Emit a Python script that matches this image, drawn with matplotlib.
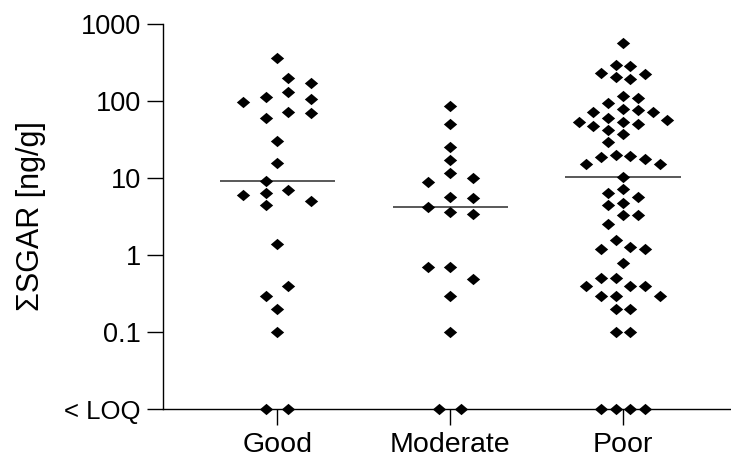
import numpy as np
import matplotlib
matplotlib.use("Agg")
import matplotlib.pyplot as plt

plt.rcParams['font.family'] = ['Liberation Sans', 'DejaVu Sans']

# Werte (ng/g), ohne die Proben < LOQ
categories = ['Good', 'Moderate', 'Poor']
good = [359, 201, 173, 132, 112, 105, 98, 73, 69, 61, 30.5, 15.8, 9.1, 7.0,
        6.4, 6.1, 5.1, 4.5, 1.4, 0.39, 0.29, 0.2, 0.1]
moderate = [87, 50, 25.5, 17.1, 11.5, 9.9, 8.95, 5.7, 5.45, 4.16, 3.65, 3.41,
            0.69, 0.69, 0.49, 0.29, 0.1]
poor = [571, 294, 285, 233, 225, 203, 191, 116, 108, 95, 78, 76, 73, 73, 61,
        56, 54, 54, 51, 47, 42, 37, 29.6, 19.9, 19.3, 18.5, 17.5, 15.2, 15.2,
        10.4, 7.1, 6.3, 5.7, 4.7, 4.4, 3.3, 3.3, 2.5, 1.57, 1.28, 1.19, 1.19,
        0.79, 0.5, 0.5, 0.39, 0.39, 0.39, 0.29, 0.29, 0.29, 0.2, 0.2, 0.1, 0.1]
n_loq = [2, 2, 4]
loq = 0.01  # Position der "< LOQ"-Zeile auf der log-Achse

ytick_vals = [loq, 0.1, 1, 10, 100, 1000]
ytick_labels = ['< LOQ', '0.1', '1', '10', '100', '1000']

# Layout (Pixel bei dpi=100)
PX_X = 173.0   # Pixel pro Kategorie
PX_DEC = 77.0  # Pixel pro Dekade
MW, MH = 13.0, 11.5  # Markerbreite/-hoehe in Pixel
step_px = [11.3, 11.3, 7.4]


def spread(vals, unit):
    # einfacher Beeswarm auf einem Raster, danach Gruppen zentrieren
    y = np.log10(vals) * PX_DEC
    order = np.argsort(-y, kind='stable')
    k = np.zeros(len(vals))
    placed = []
    flip = 1
    for i in order:
        cands = [0] + [s * m for m in range(1, 30) for s in (flip, -flip)]
        for c in cands:
            if all(not (abs(y[i] - yy) < MH and abs(c - kk) * unit < MW)
                   for yy, kk in placed):
                break
        if c != 0:
            flip = -flip
        placed.append((y[i], c))
        k[i] = c
    # Ketten von ueberlappenden Punkten zentrieren
    grp = [order[0]]
    for a, b in zip(order[:-1], order[1:]):
        if y[a] - y[b] < MH:
            grp.append(b)
        else:
            k[grp] -= (k[grp].min() + k[grp].max()) / 2
            grp = [b]
    k[grp] -= (k[grp].min() + k[grp].max()) / 2
    return k * unit / PX_X


fig = plt.figure(figsize=(7.31, 4.59), dpi=100)
ax = fig.add_axes([162.5 / 731, 50 / 459, 568.5 / 731, 385 / 459])

for i, data in enumerate([good, moderate, poor]):
    vals = np.array(list(data) + [loq] * n_loq[i], dtype=float)
    xs = i + spread(vals, step_px[i])
    ax.plot(xs, vals, linestyle='none',
            marker=[(-1, 0), (0, 0.85), (1, 0), (0, -0.85)],
            markersize=9.6, color='black', markeredgewidth=0,
            clip_on=False, zorder=3)
    med = np.median(vals)
    ax.hlines(med, i - 0.333, i + 0.333, color='#3c3c3c', linewidth=1.2,
              zorder=2)

ax.set_yscale('log')
ax.set_ylim(loq, 1000)
ax.set_xlim(-0.663, 2.624)
ax.set_yticks(ytick_vals)
ax.set_yticklabels(ytick_labels)
ax.yaxis.set_minor_locator(matplotlib.ticker.NullLocator())
ax.set_xticks(range(len(categories)))
ax.set_xticklabels(categories)

ax.tick_params(axis='both', direction='out', length=11.5, width=1.0,
               labelsize=19.5, pad=4, color='black')
ax.tick_params(axis='x', labelsize=20.5, pad=5)
ax.get_yticklabels()[0].set_fontsize(18.5)

ax.spines['top'].set_visible(False)
ax.spines['right'].set_visible(False)
for s in ['left', 'bottom']:
    ax.spines[s].set_linewidth(1.0)

ax.set_ylabel('ΣSGAR [ng/g]', fontsize=22)
ax.yaxis.set_label_coords(-0.205, 0.5)

fig.savefig('out.png', dpi=100)
